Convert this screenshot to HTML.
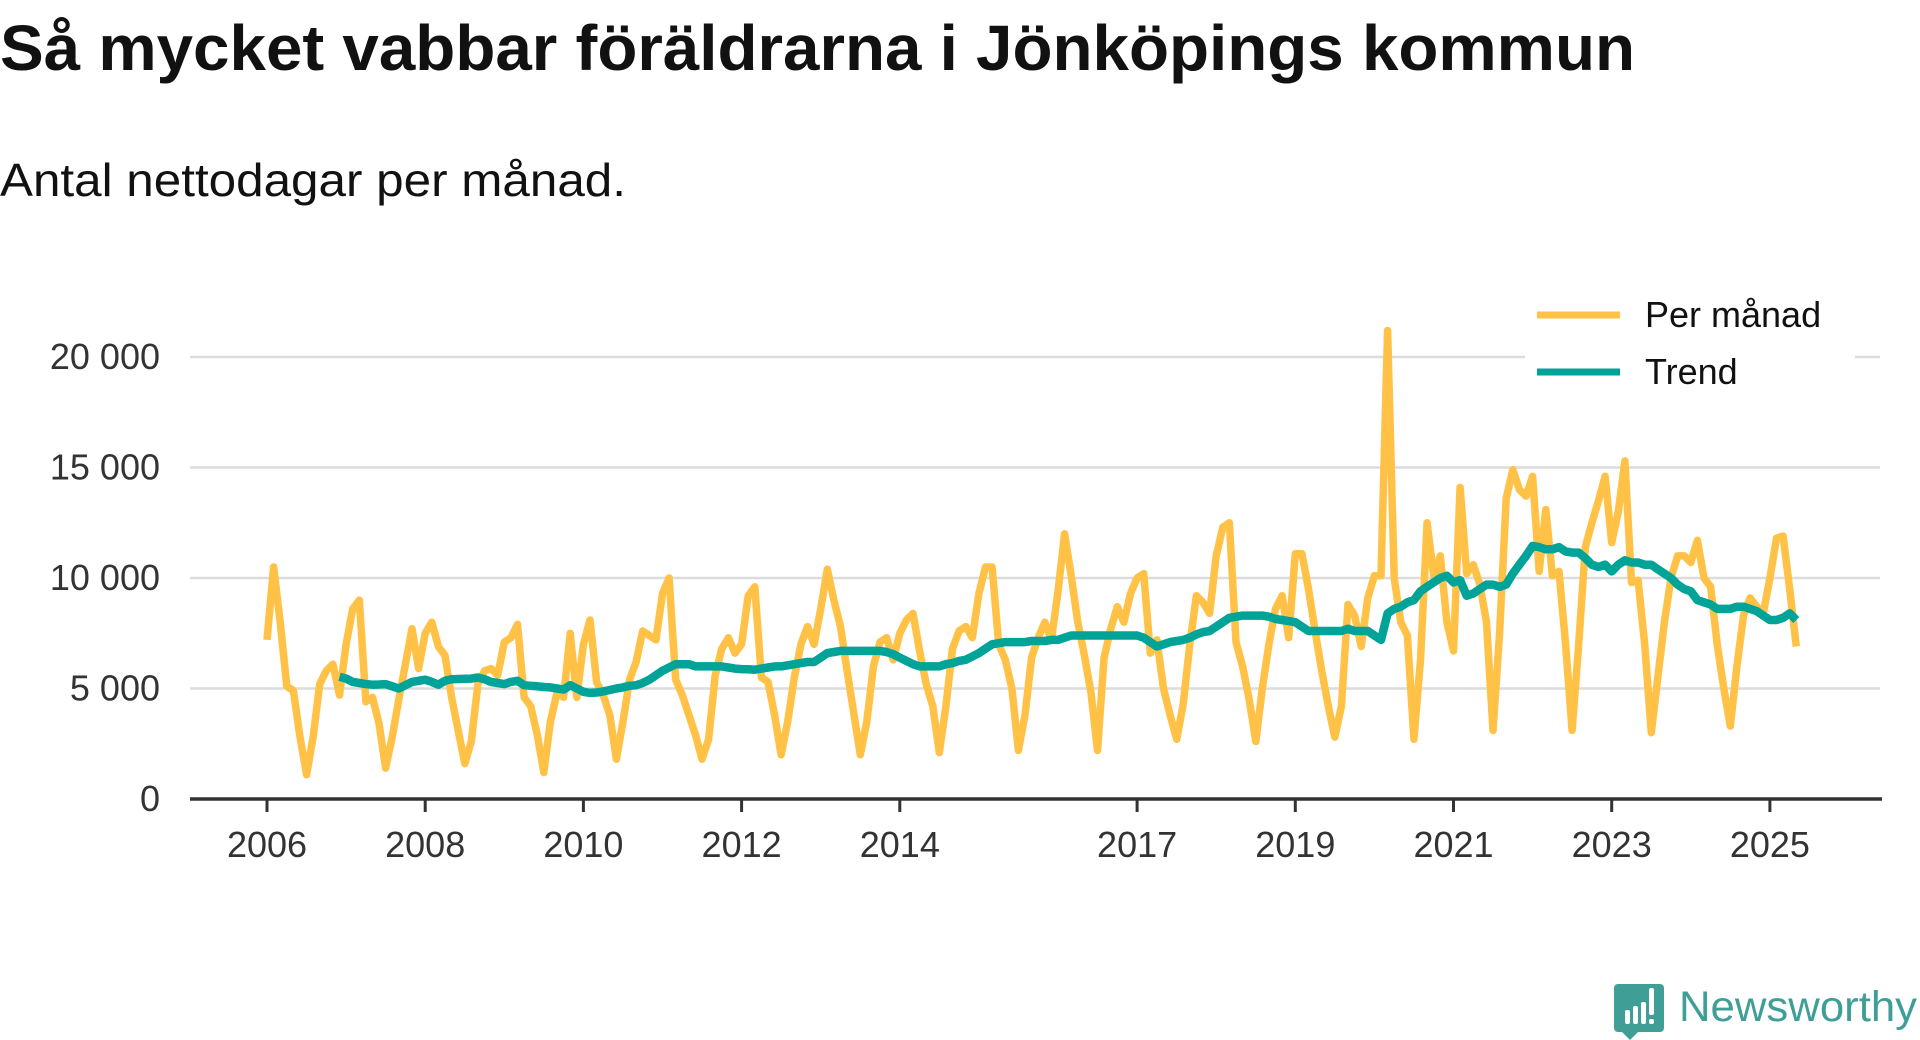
<!DOCTYPE html>
<html><head><meta charset="utf-8">
<style>
html,body{margin:0;padding:0;background:#fff;width:1920px;height:1040px;overflow:hidden;}
svg{display:block;font-family:"Liberation Sans",sans-serif;}
</style></head>
<body>
<svg id="chart" width="1920" height="1040" viewBox="0 0 1920 1040" xmlns="http://www.w3.org/2000/svg">
  <text x="0" y="70" font-size="64" font-weight="bold" fill="#111" textLength="1635" lengthAdjust="spacingAndGlyphs">Så mycket vabbar föräldrarna i Jönköpings kommun</text>
  <text x="0" y="196" font-size="46" fill="#111" textLength="626" lengthAdjust="spacingAndGlyphs">Antal nettodagar per månad.</text>
  <g id="grid"></g>
  <g id="yaxis"></g>
  <g id="xaxis"></g>
  <g id="series"></g>
  <g>
    <rect x="1525" y="285" width="330" height="110" fill="#fff"/>
    <g>
      <line x1="1537" y1="315" x2="1620" y2="315" stroke="#FFC247" stroke-width="7"/>
      <text x="1645" y="327" font-size="36" fill="#111">Per månad</text>
    </g>
    <g>
      <line x1="1537" y1="372" x2="1620" y2="372" stroke="#00A398" stroke-width="7"/>
      <text x="1645" y="384" font-size="36" fill="#111">Trend</text>
    </g>
  </g>
  <g>
    <path d="M1618 984 h42 a4 4 0 0 1 4 4 v40 a4 4 0 0 1 -4 4 h-22 l-8 8 l-8 -8 h-4 a4 4 0 0 1 -4 -4 v-40 a4 4 0 0 1 4 -4z" fill="#3f9f97"/>
    <rect x="1625" y="1010" width="5" height="14" rx="2" fill="#fff"/>
    <rect x="1633" y="1006" width="5" height="18" rx="2" fill="#fff"/>
    <rect x="1641" y="1002" width="5" height="22" rx="2" fill="#fff"/>
    <rect x="1649" y="988" width="5" height="27" rx="2" fill="#fff"/>
    <rect x="1649" y="1019" width="5" height="5" rx="2" fill="#fff"/>
    <text x="1679" y="1021" font-size="43" fill="#3f9f97" textLength="238" lengthAdjust="spacingAndGlyphs">Newsworthy</text>
  </g>
</svg>
<script>
// ---- data ----
const startYear = 2006;
const monthly = [
7200,10500,8000,5100,4900,2800,1100,2800,5200,5800,6100,4700,
7000,8600,9000,4400,4600,3400,1400,2800,4500,6100,7700,5900,
7500,8000,6900,6500,4600,3100,1600,2600,5200,5800,5900,5600,
7100,7300,7900,4600,4200,2900,1200,3500,4800,4600,7500,4600,
7000,8100,5300,4700,3800,1800,3500,5400,6200,7600,7400,7200,
9300,10000,5400,4700,3800,2900,1800,2700,5600,6800,7300,6600,
7000,9200,9600,5500,5300,3800,2000,3500,5500,7000,7800,7000,
8600,10400,9000,7800,5800,3900,2000,3500,6000,7100,7300,6300,
7500,8100,8400,6700,5200,4200,2100,4200,6800,7600,7800,7300,
9300,10500,10500,7000,6300,5000,2200,3800,6400,7300,8000,7200,
9400,12000,10100,8000,6500,4800,2200,6400,7700,8700,8000,9300,
10000,10200,6600,7200,5000,3800,2700,4300,7000,9200,8900,8400,
11000,12300,12500,7100,6000,4500,2600,5000,7000,8600,9200,7300,
11100,11100,9500,7600,5800,4200,2800,4200,8800,8300,6900,9100,
10100,10100,21200,10000,8000,7400,2700,6300,12500,10100,11000,8000,
6700,14100,10200,10600,9700,8000,3100,7500,13600,14900,14000,13700,
14600,10300,13100,10100,10300,7000,3100,7000,11400,12500,13500,14600,
11600,13000,15300,9800,9900,7000,3000,5500,8000,10000,11000,11000,
10700,11700,10000,9600,7000,5000,3300,6000,8300,9100,8700,8400,
10000,11800,11900,9500,6900
];
const trendStart = 11; // month index of first trend value (2006-12)
const trend = [
5530,
5450,5300,5250,5200,5170,5180,5200,5100,5000,5150,5300,5350,
5400,5300,5170,5350,5420,5430,5440,5450,5500,5420,5300,5250,
5200,5300,5350,5150,5120,5100,5070,5050,5000,4950,5150,5000,
4850,4800,4820,4870,4930,5000,5050,5120,5150,5250,5400,5600,
5800,5950,6100,6100,6100,6000,6000,6000,6000,6000,5950,5900,
5880,5870,5850,5900,5950,6000,6000,6050,6100,6150,6200,6200,
6400,6600,6650,6700,6700,6700,6700,6700,6700,6700,6650,6550,
6400,6250,6100,6000,6000,6000,6000,6100,6150,6250,6300,6450,
6600,6800,7000,7050,7100,7100,7100,7100,7150,7150,7150,7200,
7200,7300,7400,7400,7400,7400,7400,7400,7400,7400,7400,7400,
7400,7300,7100,6900,7000,7100,7150,7200,7300,7450,7550,7600,
7800,8000,8200,8250,8300,8300,8300,8300,8250,8150,8100,8050,
8000,7800,7600,7600,7600,7600,7600,7600,7700,7600,7600,7600,
7400,7200,8400,8600,8700,8900,9000,9400,9600,9800,10000,10100,
9800,9900,9200,9300,9500,9700,9700,9600,9700,10200,10600,11000,
11450,11400,11300,11300,11400,11200,11150,11150,10900,10600,10500,10600,
10300,10600,10800,10700,10700,10600,10600,10400,10200,10000,9700,9500,
9400,9000,8900,8800,8600,8600,8600,8700,8700,8600,8500,8300,
8100,8100,8200,8400,8100
];
const yTicks = [0,5000,10000,15000,20000];
const yTickLabels = ["0","5 000","10 000","15 000","20 000"];
const xTicks = [2006,2008,2010,2012,2014,2017,2019,2021,2023,2025];

// ---- scales ----
const X0 = 267, PX_PER_YEAR = 79.1;
const Y0 = 799, Y_TOP = 357, Y_MAX = 20000;
function xOfMonth(i){ return X0 + (i/12) * PX_PER_YEAR; }
function xOfYear(y){ return X0 + (y - startYear) * PX_PER_YEAR; }
function yOf(v){ return Y0 - v / Y_MAX * (Y0 - Y_TOP); }

const NS = "http://www.w3.org/2000/svg";
function mk(tag, attrs, parent){
  const e = document.createElementNS(NS, tag);
  for (const k in attrs) e.setAttribute(k, attrs[k]);
  parent.appendChild(e);
  return e;
}
const grid = document.getElementById('grid');
const yaxis = document.getElementById('yaxis');
const xaxis = document.getElementById('xaxis');
const series = document.getElementById('series');

yTicks.forEach((v, i) => {
  if (v > 0) {
    const g = mk('line', {x1:190, x2:1880, y1:yOf(v), y2:yOf(v), stroke:'#dcdcdc', 'stroke-width':2.5}, grid);
    
    
  }
  const t = mk('text', {x:160, y:yOf(v)+12, 'text-anchor':'end', 'font-size':36, fill:'#333'}, yaxis);
  t.textContent = yTickLabels[i];
  
  
});

const axisLine = mk('line', {x1:190, x2:1882, y1:Y0, y2:Y0, stroke:'#333', 'stroke-width':3.5}, xaxis);


xTicks.forEach(yr => {
  const x = xOfYear(yr);
  const tk = mk('line', {x1:x, x2:x, y1:Y0, y2:Y0+13, stroke:'#333', 'stroke-width':3}, xaxis);
  
  
  const t = mk('text', {x:x, y:857, 'text-anchor':'middle', 'font-size':36, fill:'#333'}, xaxis);
  t.textContent = String(yr);
  
  
});

const mPts = monthly.map((v,i) => xOfMonth(i).toFixed(1) + ',' + yOf(v).toFixed(1)).join(' ');
const mLine = mk('polyline', {points:mPts, fill:'none', stroke:'#FFC247', 'stroke-width':7.5, 'stroke-linejoin':'round'}, series);



const tPts = trend.map((v,i) => xOfMonth(i + trendStart).toFixed(1) + ',' + yOf(v).toFixed(1)).join(' ');
const tLine = mk('polyline', {points:tPts, fill:'none', stroke:'#00A398', 'stroke-width':8.5, 'stroke-linejoin':'round'}, series);


</script>
</body></html>
